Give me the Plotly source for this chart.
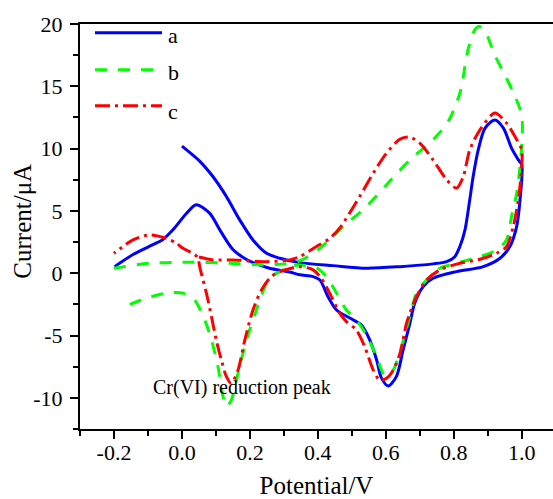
import plotly.graph_objects as go

# ---- data ----
a_x = [0.000, 0.052, 0.091, 0.131, 0.170, 0.209, 0.249, 0.288, 0.347, 0.445, 0.543, 0.642,
       0.739, 0.779, 0.803, 0.818, 0.833, 0.847, 0.857, 0.872, 0.892, 0.921, 0.946, 0.970,
       0.990, 1.000, 0.995, 0.985, 0.965, 0.936, 0.887, 0.808, 0.739, 0.710, 0.685, 0.671,
       0.651, 0.631, 0.607, 0.587, 0.573, 0.553, 0.528, 0.494, 0.455, 0.430, 0.406, 0.386,
       0.347, 0.317, 0.258, 0.219, 0.190, 0.150, 0.111, 0.082, 0.042, 0.013, -0.026, -0.056,
       -0.100, -0.144, -0.198]
a_y = [10.2, 9.0, 7.76, 6.15, 4.28, 2.67, 1.6, 1.2, 0.85, 0.61, 0.4, 0.53,
       0.75, 0.93, 1.33, 2.14, 3.48, 5.89, 7.76, 9.9, 11.65, 12.3, 11.65, 10.04,
       9.1, 8.7, 5.9, 3.74, 2.14, 1.2, 0.53, 0.13, -0.4, -1.07, -2.4, -4.0,
       -6.16, -8.3, -9.05, -8.4, -6.96, -5.36, -4.15, -3.6, -2.95, -1.88, -0.54, -0.27,
       -0.12, 0.1, 0.4, 0.75, 1.1, 1.9, 3.5, 4.8, 5.5, 4.8, 3.5, 2.7,
       2.1, 1.5, 0.53]

b_x = [-0.200, -0.095, 0.032, 0.140, 0.239, 0.300, 0.347, 0.406, 0.474, 0.543, 0.602, 0.671,
       0.739, 0.784, 0.818, 0.842, 0.862, 0.874, 0.892, 0.921, 0.955, 0.980, 1.000, 1.001,
       0.995, 0.985, 0.970, 0.955, 0.926, 0.877, 0.808, 0.759, 0.720, 0.690, 0.676, 0.660,
       0.641, 0.622, 0.607, 0.592, 0.573, 0.543, 0.513, 0.484, 0.455, 0.425, 0.395, 0.340,
       0.307, 0.288, 0.268, 0.249, 0.219, 0.190, 0.165, 0.145, 0.131, 0.121, 0.106, 0.087,
       0.067, 0.037, 0.003, -0.036, -0.105, -0.169]
b_y = [0.4, 0.8, 0.88, 0.8, 0.67, 0.75, 1.0, 2.0, 3.74, 5.35, 7.1, 9.1,
       10.7, 12.2, 14.46, 17.94, 19.54, 19.8, 19.4, 17.5, 15.66, 14.2, 12.7, 10.7,
       8.56, 6.4, 4.55, 2.67, 1.87, 1.33, 0.8, 0.4, -0.54, -1.6, -2.95, -4.5,
       -6.4, -7.77, -8.25, -8.03, -6.7, -4.96, -3.75, -2.95, -1.6, -0.27, 0.45, 0.65,
       0.45, 0.1, -0.14, -0.8, -2.95, -5.36, -8.03, -10.2, -10.7, -9.9, -7.5, -5.36,
       -3.75, -2.14, -1.6, -1.56, -2.0, -2.68]

c_x = [0.050, 0.091, 0.150, 0.249, 0.317, 0.347, 0.396, 0.435, 0.464, 0.523, 0.563, 0.602,
       0.642, 0.671, 0.700, 0.739, 0.779, 0.808, 0.828, 0.847, 0.877, 0.921, 0.955, 0.980,
       1.000, 1.000, 0.990, 0.975, 0.955, 0.926, 0.877, 0.818, 0.759, 0.720, 0.690, 0.671,
       0.661, 0.642, 0.622, 0.602, 0.582, 0.563, 0.538, 0.513, 0.484, 0.464, 0.440, 0.410,
       0.386, 0.347, 0.307, 0.288, 0.263, 0.234, 0.209, 0.185, 0.165, 0.145, 0.131, 0.116,
       0.101, 0.087, 0.072, 0.055, 0.045, 0.032, 0.003, -0.016, -0.046, -0.095, -0.144, -0.200]
c_y = [1.3, 1.07, 1.07, 0.93, 1.07, 1.33, 2.14, 2.8, 3.61, 6.15, 8.03, 9.64,
       10.76, 10.92, 10.44, 9.1, 7.5, 6.83, 7.76, 9.9, 11.5, 12.85, 12.05, 10.97,
       9.9, 8.56, 5.89, 3.74, 2.14, 1.6, 1.12, 0.8, 0.27, -0.54, -1.88, -3.2,
       -4.0, -6.4, -7.77, -8.43, -8.57, -7.77, -5.9, -4.55, -3.88, -3.2, -1.88, -0.4,
       0.27, 0.53, 0.3, 0.13, -0.27, -1.34, -2.95, -5.36, -7.77, -8.84, -8.3, -6.96,
       -5.36, -3.5, -1.6, 0.2, 1.3, 1.6, 2.0, 2.41, 2.8, 3.08, 2.67, 1.6]

series_names = ["a", "b", "c"]
series_colors = ["#0000FF", "#00FF00", "#FF0000"]
series_dash = ["solid", "12px,11px", "15px,5px,3px,5px"]

x_tick_vals = [-0.2, 0.0, 0.2, 0.4, 0.6, 0.8, 1.0]
x_tick_text = ["-0.2", "0.0", "0.2", "0.4", "0.6", "0.8", "1.0"]
y_tick_vals = [-10, -5, 0, 5, 10, 15, 20]
y_tick_text = ["-10", "-5", "0", "5", "10", "15", "20"]

FONT = "Liberation Serif"

fig = go.Figure()
for xs, ys, name, col, dash in zip([a_x, b_x, c_x], [a_y, b_y, c_y],
                                   series_names, series_colors, series_dash):
    fig.add_trace(go.Scatter(x=xs, y=ys, mode="lines", name=name, showlegend=False,
                             line=dict(color=col, width=3, dash=dash,
                                       shape="spline", smoothing=0.8)))

# manual legend (long line samples as in the reference)
leg_y = [0.9785, 0.8872, 0.798]
leg_ty = [0.9705, 0.8792, 0.785]
for i, (name, col, dash) in enumerate(zip(series_names, series_colors, series_dash)):
    fig.add_shape(type="line", xref="paper", yref="paper", x0=0.0317, x1=0.1734,
                  y0=leg_y[i], y1=leg_y[i], line=dict(color=col, width=3, dash=dash))
    fig.add_annotation(xref="paper", yref="paper", x=0.182, y=leg_ty[i], text=name,
                       showarrow=False, xanchor="left", yanchor="middle",
                       font=dict(family=FONT, size=22, color="black"))

fig.add_annotation(x=0.178, y=-9.2, xref="x", yref="y", text="Cr(VI) reduction peak",
                   showarrow=False, xanchor="center", yanchor="middle",
                   font=dict(family=FONT, size=20, color="black"))

# y-axis title placed as rotated text
fig.add_annotation(xref="paper", yref="paper", x=-0.1205, y=0.512, text="Current/μA",
                   textangle=-90, showarrow=False, xanchor="center", yanchor="middle",
                   font=dict(family=FONT, size=25, color="black"))

tickfont = dict(family=FONT, size=22, color="black")
axis_common = dict(showline=True, linewidth=2, linecolor="black", ticks="outside",
                   ticklen=8, tickwidth=2, tickcolor="black", showgrid=False, zeroline=False,
                   automargin=False)

fig.update_xaxes(range=[-0.3, 1.092], tickmode="array", tickvals=x_tick_vals,
                 ticktext=x_tick_text, mirror=True, tickfont=tickfont,
                 ticklabelstandoff=-5,
                 minor=dict(ticks="outside", ticklen=5, tickwidth=2, tickcolor="black",
                            dtick=0.1, tick0=-0.3),
                 title=dict(text="Potential/V", font=dict(family=FONT, size=25, color="black"),
                            standoff=17),
                 **axis_common)
fig.update_yaxes(range=[-12.5, 20], tickmode="array", tickvals=y_tick_vals,
                 ticktext=y_tick_text, mirror=False, tickfont=tickfont,
                 ticklabelstandoff=3,
                 minor=dict(ticks="outside", ticklen=5, tickwidth=2, tickcolor="black",
                            dtick=2.5, tick0=0),
                 **axis_common)

fig.update_layout(width=553, height=499, margin=dict(l=80, r=0, t=24, b=70),
                  font=dict(family=FONT, color="black"),
                  paper_bgcolor="white", plot_bgcolor="white", showlegend=False)

fig.write_html("out.html")
